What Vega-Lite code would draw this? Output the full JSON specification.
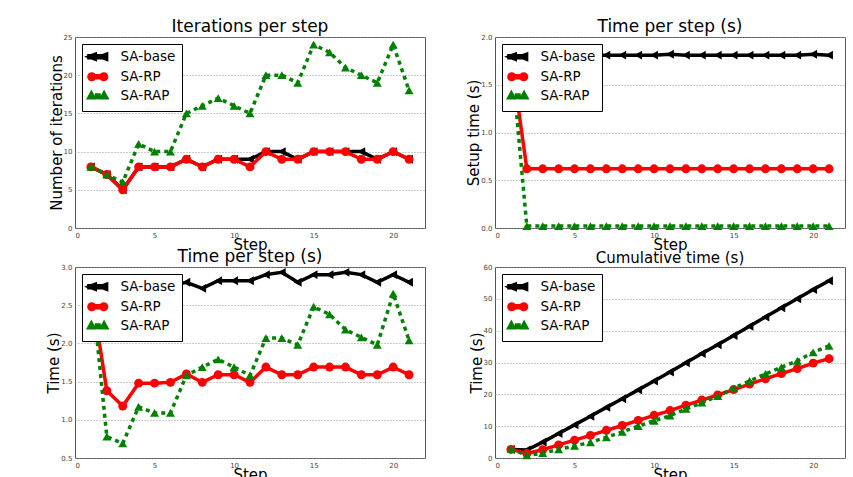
{
 "$schema": "https://vega.github.io/schema/vega-lite/v6.json",
 "padding": {"left": 46, "top": 17, "right": 0, "bottom": 0},
 "background": "white",
 "columns": 2,
 "spacing": {"row": 39, "column": 70},
 "bounds": "flush",
 "resolve": {
  "scale": {"x": "independent", "y": "independent"},
  "legend": {"color": "independent", "shape": "independent"}
 },
 "config": {
  "font": "DejaVu Sans",
  "view": {"stroke": "#555", "strokeWidth": 1},
  "axis": {"labelFontSize": 7, "labelColor": "#444", "titleFontSize": 15, "titleFontWeight": "normal", "titleColor": "#000", "domain": false, "ticks": false, "labelPadding": 3, "titlePadding": -1, "grid": false},
  "axisY": {"grid": true, "gridDash": [1, 2], "gridColor": "#999"},
  "title": {"fontSize": 17, "fontWeight": "normal", "offset": -3, "color": "#000"},
  "line": {"strokeWidth": 3.5, "clip": true},
  "point": {"filled": true, "size": 80, "opacity": 1, "clip": true},
  "legend": {"orient": "top-left", "offset": 7, "padding": 6, "strokeColor": "#000", "fillColor": "#fff", "cornerRadius": 0, "labelFontSize": 13.5, "labelColor": "#000", "rowPadding": -1, "symbolOffset": 3, "labelOffset": 16, "symbolSize": 50, "symbolOpacity": 1, "symbolStrokeWidth": 0}
 },
 "datasets": {
  "iter": [
   {"step":1,"method":"SA-base","value":8},{"step":2,"method":"SA-base","value":7},{"step":3,"method":"SA-base","value":5},{"step":4,"method":"SA-base","value":8},{"step":5,"method":"SA-base","value":8},{"step":6,"method":"SA-base","value":8},{"step":7,"method":"SA-base","value":9},{"step":8,"method":"SA-base","value":8},{"step":9,"method":"SA-base","value":9},{"step":10,"method":"SA-base","value":9},{"step":11,"method":"SA-base","value":9},{"step":12,"method":"SA-base","value":10},{"step":13,"method":"SA-base","value":10},{"step":14,"method":"SA-base","value":9},{"step":15,"method":"SA-base","value":10},{"step":16,"method":"SA-base","value":10},{"step":17,"method":"SA-base","value":10},{"step":18,"method":"SA-base","value":10},{"step":19,"method":"SA-base","value":9},{"step":20,"method":"SA-base","value":10},{"step":21,"method":"SA-base","value":9},
   {"step":1,"method":"SA-RP","value":8},{"step":2,"method":"SA-RP","value":7},{"step":3,"method":"SA-RP","value":5},{"step":4,"method":"SA-RP","value":8},{"step":5,"method":"SA-RP","value":8},{"step":6,"method":"SA-RP","value":8},{"step":7,"method":"SA-RP","value":9},{"step":8,"method":"SA-RP","value":8},{"step":9,"method":"SA-RP","value":9},{"step":10,"method":"SA-RP","value":9},{"step":11,"method":"SA-RP","value":8},{"step":12,"method":"SA-RP","value":10},{"step":13,"method":"SA-RP","value":9},{"step":14,"method":"SA-RP","value":9},{"step":15,"method":"SA-RP","value":10},{"step":16,"method":"SA-RP","value":10},{"step":17,"method":"SA-RP","value":10},{"step":18,"method":"SA-RP","value":9},{"step":19,"method":"SA-RP","value":9},{"step":20,"method":"SA-RP","value":10},{"step":21,"method":"SA-RP","value":9},
   {"step":1,"method":"SA-RAP","value":8},{"step":2,"method":"SA-RAP","value":7},{"step":3,"method":"SA-RAP","value":6},{"step":4,"method":"SA-RAP","value":11},{"step":5,"method":"SA-RAP","value":10},{"step":6,"method":"SA-RAP","value":10},{"step":7,"method":"SA-RAP","value":15},{"step":8,"method":"SA-RAP","value":16},{"step":9,"method":"SA-RAP","value":17},{"step":10,"method":"SA-RAP","value":16},{"step":11,"method":"SA-RAP","value":15},{"step":12,"method":"SA-RAP","value":20},{"step":13,"method":"SA-RAP","value":20},{"step":14,"method":"SA-RAP","value":19},{"step":15,"method":"SA-RAP","value":24},{"step":16,"method":"SA-RAP","value":23},{"step":17,"method":"SA-RAP","value":21},{"step":18,"method":"SA-RAP","value":20},{"step":19,"method":"SA-RAP","value":19},{"step":20,"method":"SA-RAP","value":24},{"step":21,"method":"SA-RAP","value":18}
  ],
  "setup": [
   {"step":1,"method":"SA-base","value":1.81},{"step":2,"method":"SA-base","value":1.81},{"step":3,"method":"SA-base","value":1.81},{"step":4,"method":"SA-base","value":1.81},{"step":5,"method":"SA-base","value":1.81},{"step":6,"method":"SA-base","value":1.81},{"step":7,"method":"SA-base","value":1.81},{"step":8,"method":"SA-base","value":1.81},{"step":9,"method":"SA-base","value":1.81},{"step":10,"method":"SA-base","value":1.81},{"step":11,"method":"SA-base","value":1.82},{"step":12,"method":"SA-base","value":1.81},{"step":13,"method":"SA-base","value":1.81},{"step":14,"method":"SA-base","value":1.81},{"step":15,"method":"SA-base","value":1.81},{"step":16,"method":"SA-base","value":1.81},{"step":17,"method":"SA-base","value":1.81},{"step":18,"method":"SA-base","value":1.81},{"step":19,"method":"SA-base","value":1.81},{"step":20,"method":"SA-base","value":1.82},{"step":21,"method":"SA-base","value":1.81},
   {"step":1,"method":"SA-RP","value":1.81},{"step":2,"method":"SA-RP","value":0.62},{"step":3,"method":"SA-RP","value":0.62},{"step":4,"method":"SA-RP","value":0.62},{"step":5,"method":"SA-RP","value":0.62},{"step":6,"method":"SA-RP","value":0.62},{"step":7,"method":"SA-RP","value":0.62},{"step":8,"method":"SA-RP","value":0.62},{"step":9,"method":"SA-RP","value":0.62},{"step":10,"method":"SA-RP","value":0.62},{"step":11,"method":"SA-RP","value":0.62},{"step":12,"method":"SA-RP","value":0.62},{"step":13,"method":"SA-RP","value":0.62},{"step":14,"method":"SA-RP","value":0.62},{"step":15,"method":"SA-RP","value":0.62},{"step":16,"method":"SA-RP","value":0.62},{"step":17,"method":"SA-RP","value":0.62},{"step":18,"method":"SA-RP","value":0.62},{"step":19,"method":"SA-RP","value":0.62},{"step":20,"method":"SA-RP","value":0.62},{"step":21,"method":"SA-RP","value":0.62},
   {"step":1,"method":"SA-RAP","value":1.85},{"step":2,"method":"SA-RAP","value":0.02},{"step":3,"method":"SA-RAP","value":0.02},{"step":4,"method":"SA-RAP","value":0.02},{"step":5,"method":"SA-RAP","value":0.02},{"step":6,"method":"SA-RAP","value":0.02},{"step":7,"method":"SA-RAP","value":0.02},{"step":8,"method":"SA-RAP","value":0.02},{"step":9,"method":"SA-RAP","value":0.02},{"step":10,"method":"SA-RAP","value":0.02},{"step":11,"method":"SA-RAP","value":0.02},{"step":12,"method":"SA-RAP","value":0.02},{"step":13,"method":"SA-RAP","value":0.02},{"step":14,"method":"SA-RAP","value":0.02},{"step":15,"method":"SA-RAP","value":0.02},{"step":16,"method":"SA-RAP","value":0.02},{"step":17,"method":"SA-RAP","value":0.02},{"step":18,"method":"SA-RAP","value":0.02},{"step":19,"method":"SA-RAP","value":0.02},{"step":20,"method":"SA-RAP","value":0.02},{"step":21,"method":"SA-RAP","value":0.02}
  ],
  "time": [
   {"step":1,"method":"SA-base","value":2.7},{"step":2,"method":"SA-base","value":2.7},{"step":3,"method":"SA-base","value":2.72},{"step":4,"method":"SA-base","value":2.74},{"step":5,"method":"SA-base","value":2.74},{"step":6,"method":"SA-base","value":2.75},{"step":7,"method":"SA-base","value":2.8},{"step":8,"method":"SA-base","value":2.72},{"step":9,"method":"SA-base","value":2.82},{"step":10,"method":"SA-base","value":2.82},{"step":11,"method":"SA-base","value":2.82},{"step":12,"method":"SA-base","value":2.9},{"step":13,"method":"SA-base","value":2.93},{"step":14,"method":"SA-base","value":2.8},{"step":15,"method":"SA-base","value":2.9},{"step":16,"method":"SA-base","value":2.9},{"step":17,"method":"SA-base","value":2.93},{"step":18,"method":"SA-base","value":2.9},{"step":19,"method":"SA-base","value":2.8},{"step":20,"method":"SA-base","value":2.9},{"step":21,"method":"SA-base","value":2.8},
   {"step":1,"method":"SA-RP","value":2.72},{"step":2,"method":"SA-RP","value":1.38},{"step":3,"method":"SA-RP","value":1.18},{"step":4,"method":"SA-RP","value":1.48},{"step":5,"method":"SA-RP","value":1.48},{"step":6,"method":"SA-RP","value":1.49},{"step":7,"method":"SA-RP","value":1.6},{"step":8,"method":"SA-RP","value":1.49},{"step":9,"method":"SA-RP","value":1.59},{"step":10,"method":"SA-RP","value":1.59},{"step":11,"method":"SA-RP","value":1.49},{"step":12,"method":"SA-RP","value":1.69},{"step":13,"method":"SA-RP","value":1.59},{"step":14,"method":"SA-RP","value":1.59},{"step":15,"method":"SA-RP","value":1.69},{"step":16,"method":"SA-RP","value":1.69},{"step":17,"method":"SA-RP","value":1.69},{"step":18,"method":"SA-RP","value":1.59},{"step":19,"method":"SA-RP","value":1.59},{"step":20,"method":"SA-RP","value":1.69},{"step":21,"method":"SA-RP","value":1.59},
   {"step":1,"method":"SA-RAP","value":2.85},{"step":2,"method":"SA-RAP","value":0.78},{"step":3,"method":"SA-RAP","value":0.69},{"step":4,"method":"SA-RAP","value":1.17},{"step":5,"method":"SA-RAP","value":1.09},{"step":6,"method":"SA-RAP","value":1.09},{"step":7,"method":"SA-RAP","value":1.58},{"step":8,"method":"SA-RAP","value":1.69},{"step":9,"method":"SA-RAP","value":1.79},{"step":10,"method":"SA-RAP","value":1.69},{"step":11,"method":"SA-RAP","value":1.58},{"step":12,"method":"SA-RAP","value":2.07},{"step":13,"method":"SA-RAP","value":2.07},{"step":14,"method":"SA-RAP","value":1.98},{"step":15,"method":"SA-RAP","value":2.48},{"step":16,"method":"SA-RAP","value":2.38},{"step":17,"method":"SA-RAP","value":2.18},{"step":18,"method":"SA-RAP","value":2.08},{"step":19,"method":"SA-RAP","value":1.98},{"step":20,"method":"SA-RAP","value":2.65},{"step":21,"method":"SA-RAP","value":2.04}
  ],
  "cum": [
   {"step":1,"method":"SA-base","value":2.7},{"step":2,"method":"SA-base","value":2.5},{"step":3,"method":"SA-base","value":5.0},{"step":4,"method":"SA-base","value":7.7},{"step":5,"method":"SA-base","value":10.4},{"step":6,"method":"SA-base","value":13.1},{"step":7,"method":"SA-base","value":15.9},{"step":8,"method":"SA-base","value":18.6},{"step":9,"method":"SA-base","value":21.4},{"step":10,"method":"SA-base","value":24.2},{"step":11,"method":"SA-base","value":27.0},{"step":12,"method":"SA-base","value":29.9},{"step":13,"method":"SA-base","value":32.8},{"step":14,"method":"SA-base","value":35.6},{"step":15,"method":"SA-base","value":38.5},{"step":16,"method":"SA-base","value":41.4},{"step":17,"method":"SA-base","value":44.3},{"step":18,"method":"SA-base","value":47.2},{"step":19,"method":"SA-base","value":50.0},{"step":20,"method":"SA-base","value":52.9},{"step":21,"method":"SA-base","value":55.7},
   {"step":1,"method":"SA-RP","value":2.7},{"step":2,"method":"SA-RP","value":1.4},{"step":3,"method":"SA-RP","value":2.6},{"step":4,"method":"SA-RP","value":4.1},{"step":5,"method":"SA-RP","value":5.6},{"step":6,"method":"SA-RP","value":7.1},{"step":7,"method":"SA-RP","value":8.7},{"step":8,"method":"SA-RP","value":10.2},{"step":9,"method":"SA-RP","value":11.8},{"step":10,"method":"SA-RP","value":13.4},{"step":11,"method":"SA-RP","value":14.9},{"step":12,"method":"SA-RP","value":16.6},{"step":13,"method":"SA-RP","value":18.2},{"step":14,"method":"SA-RP","value":19.8},{"step":15,"method":"SA-RP","value":21.5},{"step":16,"method":"SA-RP","value":23.2},{"step":17,"method":"SA-RP","value":24.9},{"step":18,"method":"SA-RP","value":26.5},{"step":19,"method":"SA-RP","value":28.1},{"step":20,"method":"SA-RP","value":29.8},{"step":21,"method":"SA-RP","value":31.2},
   {"step":1,"method":"SA-RAP","value":2.9},{"step":2,"method":"SA-RAP","value":0.8},{"step":3,"method":"SA-RAP","value":1.5},{"step":4,"method":"SA-RAP","value":2.7},{"step":5,"method":"SA-RAP","value":3.8},{"step":6,"method":"SA-RAP","value":4.9},{"step":7,"method":"SA-RAP","value":6.5},{"step":8,"method":"SA-RAP","value":8.2},{"step":9,"method":"SA-RAP","value":10.0},{"step":10,"method":"SA-RAP","value":11.7},{"step":11,"method":"SA-RAP","value":13.3},{"step":12,"method":"SA-RAP","value":15.4},{"step":13,"method":"SA-RAP","value":17.4},{"step":14,"method":"SA-RAP","value":19.4},{"step":15,"method":"SA-RAP","value":21.9},{"step":16,"method":"SA-RAP","value":24.2},{"step":17,"method":"SA-RAP","value":26.4},{"step":18,"method":"SA-RAP","value":28.5},{"step":19,"method":"SA-RAP","value":30.5},{"step":20,"method":"SA-RAP","value":33.2},{"step":21,"method":"SA-RAP","value":35.2}
  ]
 },
 "concat": [
  {
   "data": {"name": "iter"},
   "width": 350, "height": 191,
   "title": {"text": "Iterations per step"},
   "encoding": {
    "x": {"field": "step", "type": "quantitative", "scale": {"domain": [0, 22], "nice": false}, "axis": {"title": "Step", "values": [0, 5, 10, 15, 20]}},
    "y": {"field": "value", "type": "quantitative", "scale": {"domain": [0, 25], "nice": false}, "axis": {"title": "Number of iterations", "values": [0, 5, 10, 15, 20, 25]}},
    "color": {"field": "method", "type": "nominal", "scale": {"domain": ["SA-base", "SA-RP", "SA-RAP"], "range": ["#000000", "#ff0000", "#008000"]}, "legend": {"title": null}}
   },
   "layer": [
    {"transform": [{"filter": "false"}], "mark": {"type": "point", "size": 50}, "encoding": {"shape": {"field": "method", "type": "nominal", "scale": {"domain": ["SA-base", "SA-RP", "SA-RAP"], "range": ["M-2.5,-0.3L2.5,-0.3L2.5,0.3L-2.5,0.3ZM-2.5,0L-0.7,-0.7L-0.7,0.7ZM0.7,0L2.5,-0.7L2.5,0.7Z", "M-1.7,-0.3L1.7,-0.3L1.7,0.3L-1.7,0.3ZM-2.5,0A0.8,0.8,0,1,1,-0.9,0A0.8,0.8,0,1,1,-2.5,0ZM0.9,0A0.8,0.8,0,1,1,2.5,0A0.8,0.8,0,1,1,0.9,0Z", "M-1.8,-0.7L-1.1,0.6L-2.5,0.6ZM1.8,-0.7L2.5,0.6L1.1,0.6ZM-0.35,-0.2L0.35,-0.2L0.35,0.5L-0.35,0.5Z"]}, "legend": {"title": null}}}},
    {"transform": [{"filter": "datum.method === 'SA-base'"}], "mark": {"type": "line"}},
    {"transform": [{"filter": "datum.method === 'SA-base'"}], "mark": {"type": "point", "shape": "triangle-left"}},
    {"transform": [{"filter": "datum.method === 'SA-RP'"}], "mark": {"type": "line"}},
    {"transform": [{"filter": "datum.method === 'SA-RP'"}], "mark": {"type": "point", "shape": "circle"}},
    {"transform": [{"filter": "datum.method === 'SA-RAP'"}], "mark": {"type": "line", "strokeDash": [4, 4]}},
    {"transform": [{"filter": "datum.method === 'SA-RAP'"}], "mark": {"type": "point", "shape": "triangle-up"}}
   ]
  },
  {
   "data": {"name": "setup"},
   "width": 350, "height": 191,
   "title": {"text": "Time per step (s)"},
   "encoding": {
    "x": {"field": "step", "type": "quantitative", "scale": {"domain": [0, 22], "nice": false}, "axis": {"title": "Step", "values": [0, 5, 10, 15, 20]}},
    "y": {"field": "value", "type": "quantitative", "scale": {"domain": [0, 2], "nice": false}, "axis": {"title": "Setup time (s)", "values": [0, 0.5, 1, 1.5, 2], "format": ".1f"}},
    "color": {"field": "method", "type": "nominal", "scale": {"domain": ["SA-base", "SA-RP", "SA-RAP"], "range": ["#000000", "#ff0000", "#008000"]}, "legend": {"title": null}}
   },
   "layer": [
    {"transform": [{"filter": "false"}], "mark": {"type": "point", "size": 50}, "encoding": {"shape": {"field": "method", "type": "nominal", "scale": {"domain": ["SA-base", "SA-RP", "SA-RAP"], "range": ["M-2.5,-0.3L2.5,-0.3L2.5,0.3L-2.5,0.3ZM-2.5,0L-0.7,-0.7L-0.7,0.7ZM0.7,0L2.5,-0.7L2.5,0.7Z", "M-1.7,-0.3L1.7,-0.3L1.7,0.3L-1.7,0.3ZM-2.5,0A0.8,0.8,0,1,1,-0.9,0A0.8,0.8,0,1,1,-2.5,0ZM0.9,0A0.8,0.8,0,1,1,2.5,0A0.8,0.8,0,1,1,0.9,0Z", "M-1.8,-0.7L-1.1,0.6L-2.5,0.6ZM1.8,-0.7L2.5,0.6L1.1,0.6ZM-0.35,-0.2L0.35,-0.2L0.35,0.5L-0.35,0.5Z"]}, "legend": {"title": null}}}},
    {"transform": [{"filter": "datum.method === 'SA-base'"}], "mark": {"type": "line"}},
    {"transform": [{"filter": "datum.method === 'SA-base'"}], "mark": {"type": "point", "shape": "triangle-left"}},
    {"transform": [{"filter": "datum.method === 'SA-RP'"}], "mark": {"type": "line"}},
    {"transform": [{"filter": "datum.method === 'SA-RP'"}], "mark": {"type": "point", "shape": "circle"}},
    {"transform": [{"filter": "datum.method === 'SA-RAP'"}], "mark": {"type": "line", "strokeDash": [4, 4]}},
    {"transform": [{"filter": "datum.method === 'SA-RAP'"}], "mark": {"type": "point", "shape": "triangle-up"}}
   ]
  },
  {
   "data": {"name": "time"},
   "width": 350, "height": 191,
   "title": {"text": "Time per step (s)"},
   "encoding": {
    "x": {"field": "step", "type": "quantitative", "scale": {"domain": [0, 22], "nice": false}, "axis": {"title": "Step", "values": [0, 5, 10, 15, 20]}},
    "y": {"field": "value", "type": "quantitative", "scale": {"domain": [0.5, 3], "nice": false, "zero": false}, "axis": {"title": "Time (s)", "values": [0.5, 1, 1.5, 2, 2.5, 3], "format": ".1f"}},
    "color": {"field": "method", "type": "nominal", "scale": {"domain": ["SA-base", "SA-RP", "SA-RAP"], "range": ["#000000", "#ff0000", "#008000"]}, "legend": {"title": null}}
   },
   "layer": [
    {"transform": [{"filter": "false"}], "mark": {"type": "point", "size": 50}, "encoding": {"shape": {"field": "method", "type": "nominal", "scale": {"domain": ["SA-base", "SA-RP", "SA-RAP"], "range": ["M-2.5,-0.3L2.5,-0.3L2.5,0.3L-2.5,0.3ZM-2.5,0L-0.7,-0.7L-0.7,0.7ZM0.7,0L2.5,-0.7L2.5,0.7Z", "M-1.7,-0.3L1.7,-0.3L1.7,0.3L-1.7,0.3ZM-2.5,0A0.8,0.8,0,1,1,-0.9,0A0.8,0.8,0,1,1,-2.5,0ZM0.9,0A0.8,0.8,0,1,1,2.5,0A0.8,0.8,0,1,1,0.9,0Z", "M-1.8,-0.7L-1.1,0.6L-2.5,0.6ZM1.8,-0.7L2.5,0.6L1.1,0.6ZM-0.35,-0.2L0.35,-0.2L0.35,0.5L-0.35,0.5Z"]}, "legend": {"title": null}}}},
    {"transform": [{"filter": "datum.method === 'SA-base'"}], "mark": {"type": "line"}},
    {"transform": [{"filter": "datum.method === 'SA-base'"}], "mark": {"type": "point", "shape": "triangle-left"}},
    {"transform": [{"filter": "datum.method === 'SA-RP'"}], "mark": {"type": "line"}},
    {"transform": [{"filter": "datum.method === 'SA-RP'"}], "mark": {"type": "point", "shape": "circle"}},
    {"transform": [{"filter": "datum.method === 'SA-RAP'"}], "mark": {"type": "line", "strokeDash": [4, 4]}},
    {"transform": [{"filter": "datum.method === 'SA-RAP'"}], "mark": {"type": "point", "shape": "triangle-up"}}
   ]
  },
  {
   "data": {"name": "cum"},
   "width": 350, "height": 191,
   "title": {"text": "Cumulative time (s)", "fontSize": 15},
   "encoding": {
    "x": {"field": "step", "type": "quantitative", "scale": {"domain": [0, 22], "nice": false}, "axis": {"title": "Step", "values": [0, 5, 10, 15, 20]}},
    "y": {"field": "value", "type": "quantitative", "scale": {"domain": [0, 60], "nice": false}, "axis": {"title": "Time (s)", "values": [0, 10, 20, 30, 40, 50, 60]}},
    "color": {"field": "method", "type": "nominal", "scale": {"domain": ["SA-base", "SA-RP", "SA-RAP"], "range": ["#000000", "#ff0000", "#008000"]}, "legend": {"title": null}}
   },
   "layer": [
    {"transform": [{"filter": "false"}], "mark": {"type": "point", "size": 50}, "encoding": {"shape": {"field": "method", "type": "nominal", "scale": {"domain": ["SA-base", "SA-RP", "SA-RAP"], "range": ["M-2.5,-0.3L2.5,-0.3L2.5,0.3L-2.5,0.3ZM-2.5,0L-0.7,-0.7L-0.7,0.7ZM0.7,0L2.5,-0.7L2.5,0.7Z", "M-1.7,-0.3L1.7,-0.3L1.7,0.3L-1.7,0.3ZM-2.5,0A0.8,0.8,0,1,1,-0.9,0A0.8,0.8,0,1,1,-2.5,0ZM0.9,0A0.8,0.8,0,1,1,2.5,0A0.8,0.8,0,1,1,0.9,0Z", "M-1.8,-0.7L-1.1,0.6L-2.5,0.6ZM1.8,-0.7L2.5,0.6L1.1,0.6ZM-0.35,-0.2L0.35,-0.2L0.35,0.5L-0.35,0.5Z"]}, "legend": {"title": null}}}},
    {"transform": [{"filter": "datum.method === 'SA-base'"}], "mark": {"type": "line"}},
    {"transform": [{"filter": "datum.method === 'SA-base'"}], "mark": {"type": "point", "shape": "triangle-left"}},
    {"transform": [{"filter": "datum.method === 'SA-RP'"}], "mark": {"type": "line"}},
    {"transform": [{"filter": "datum.method === 'SA-RP'"}], "mark": {"type": "point", "shape": "circle"}},
    {"transform": [{"filter": "datum.method === 'SA-RAP'"}], "mark": {"type": "line", "strokeDash": [4, 4]}},
    {"transform": [{"filter": "datum.method === 'SA-RAP'"}], "mark": {"type": "point", "shape": "triangle-up"}}
   ]
  }
 ]
}
